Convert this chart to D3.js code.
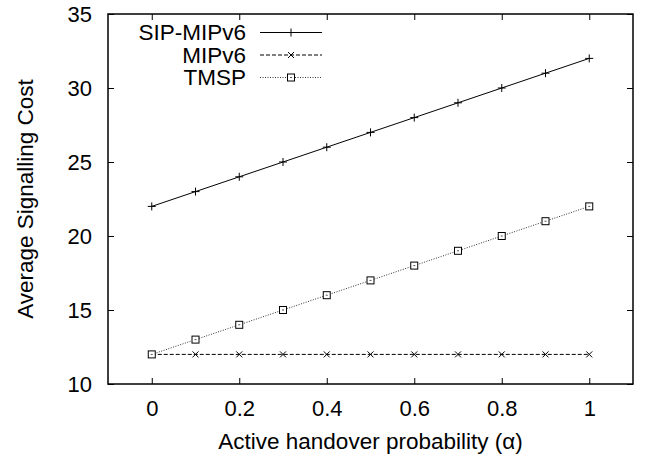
<!DOCTYPE html>
<html>
<head>
<meta charset="utf-8">
<script src="https://cdn.jsdelivr.net/npm/d3@7"></script>
<style>
  body { margin: 0; background: #fff; }
  text { font-family: "Liberation Sans", Arial, sans-serif; fill: #000; }
</style>
</head>
<body>
<svg id="chart" width="650" height="462"></svg>
<script>
// data
var alpha = [0, 0.1, 0.2, 0.3, 0.4, 0.5, 0.6, 0.7, 0.8, 0.9, 1];
var sipMipv6 = [22, 23, 24, 25, 26, 27, 28, 29, 30, 31, 32];
var mipv6 = [12, 12, 12, 12, 12, 12, 12, 12, 12, 12, 12];
var tmsp = [12, 13, 14, 15, 16, 17, 18, 19, 20, 21, 22];
var xTicks = [0, 0.2, 0.4, 0.6, 0.8, 1];
var yTicks = [10, 15, 20, 25, 30, 35];
var seriesNames = ["SIP-MIPv6", "MIPv6", "TMSP"];

var svg = d3.select("#chart"),
  margin = {top: 14, right: 17, bottom: 78, left: 108},
  width = +svg.attr("width") - margin.left - margin.right,
  height = +svg.attr("height") - margin.top - margin.bottom,
  g = svg.append("g").attr("transform", "translate(" + margin.left + "," + margin.top + ")");

var x = d3.scaleLinear().domain([-0.1, 1.1]).range([0, width]);
var y = d3.scaleLinear().domain([10, 35]).range([height, 0]);

var series = [
  {name: seriesNames[0], values: sipMipv6, dash: null, color: "#000", marker: "plus"},
  {name: seriesNames[1], values: mipv6, dash: "4,2", color: "#000", marker: "cross"},
  {name: seriesNames[2], values: tmsp, dash: "1,1.5", color: "#333", marker: "box"}
];

// ticks (inside, mirrored)
var tl = 6;
g.append("g").call(d3.axisBottom(x).tickValues(xTicks).tickSizeInner(-tl).tickSizeOuter(0).tickFormat(d3.format("")))
  .attr("transform", "translate(0," + height + ")")
  .call(a => a.select(".domain").remove())
  .selectAll("text").attr("font-size", 22).attr("y", 32).attr("dy", null);
g.append("g").call(d3.axisTop(x).tickValues(xTicks).tickSizeInner(-tl).tickSizeOuter(0).tickFormat(""))
  .call(a => a.select(".domain").remove());
g.append("g").call(d3.axisLeft(y).tickValues(yTicks).tickSizeInner(-tl).tickSizeOuter(0))
  .call(a => a.select(".domain").remove())
  .selectAll("text").attr("font-size", 22).attr("x", -16);
g.append("g").attr("transform", "translate(" + width + ",0)")
  .call(d3.axisRight(y).tickValues(yTicks).tickSizeInner(-tl).tickSizeOuter(0).tickFormat(""))
  .call(a => a.select(".domain").remove());
g.selectAll(".tick line").attr("stroke", "#000");
g.selectAll(".tick text").attr("fill", "#000");

// frame
g.append("rect").attr("width", width).attr("height", height)
  .attr("fill", "none").attr("stroke", "#000").attr("stroke-width", 1.5);

function drawMarker(sel, type, cx, cy) {
  var s = 4;
  if (type == "plus") {
    sel.append("path").attr("d", "M" + (cx - s) + "," + cy + "H" + (cx + s) + "M" + cx + "," + (cy - s) + "V" + (cy + s))
      .attr("stroke", "#000").attr("stroke-width", 1);
  } else if (type == "cross") {
    s = 3;
    sel.append("path").attr("d", "M" + (cx - s) + "," + (cy - s) + "L" + (cx + s) + "," + (cy + s) + "M" + (cx - s) + "," + (cy + s) + "L" + (cx + s) + "," + (cy - s))
      .attr("stroke", "#000").attr("stroke-width", 1);
  } else {
    s = 3.5;
    sel.append("rect").attr("x", cx - s).attr("y", cy - s).attr("width", 2 * s).attr("height", 2 * s)
      .attr("fill", "#fff").attr("stroke", "#000").attr("stroke-width", 1);
    sel.append("rect").attr("x", cx - 1).attr("y", cy - 0.5).attr("width", 2).attr("height", 1).attr("fill", "#555");
  }
}

var line = d3.line().x(d => x(d[0])).y(d => y(d[1]));

series.forEach(s => {
  var pts = alpha.map((a, i) => [a, s.values[i]]);
  g.append("path").datum(pts).attr("d", line)
    .attr("fill", "none").attr("stroke", s.color).attr("stroke-width", 1)
    .attr("stroke-dasharray", s.dash);
  var mg = g.append("g");
  pts.forEach(p => drawMarker(mg, s.marker, x(p[0]), y(p[1])));
});

// legend
var legend = g.append("g");
series.forEach((s, i) => {
  var ly = 18.5 + i * 22.5;
  legend.append("text").attr("x", 138).attr("y", ly + 7.5)
    .attr("text-anchor", "end").attr("font-size", 22.5).text(s.name);
  legend.append("line").attr("x1", 152).attr("x2", 214).attr("y1", ly).attr("y2", ly)
    .attr("stroke", s.color).attr("stroke-width", 1).attr("stroke-dasharray", s.dash);
  drawMarker(legend, s.marker, 183, ly);
});

// axis titles
svg.append("text").attr("x", margin.left + width / 2).attr("y", 449)
  .attr("text-anchor", "middle").attr("font-size", 22.5)
  .text("Active handover probability (α)");
svg.append("text").attr("transform", "translate(33," + (margin.top + height / 2) + ") rotate(-90)")
  .attr("text-anchor", "middle").attr("font-size", 22.5)
  .text("Average Signalling Cost");
</script>
</body>
</html>
